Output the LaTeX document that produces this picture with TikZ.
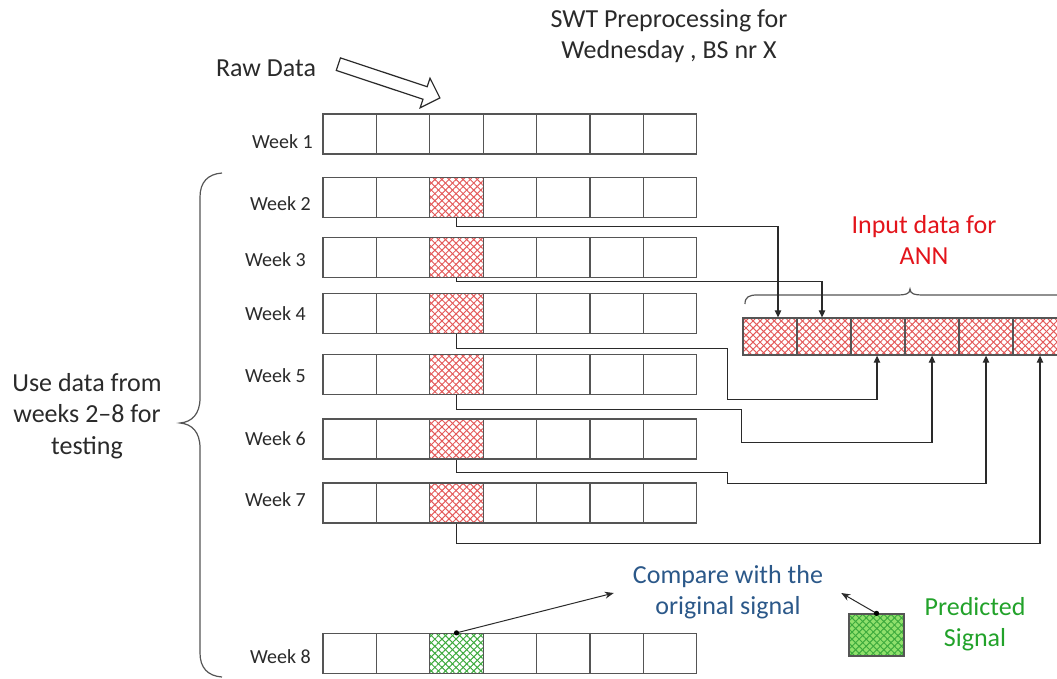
\documentclass[tikz,border=0pt]{standalone}
\usepackage{fontspec}
\setmainfont{Carlito}
\usetikzlibrary{arrows.meta,patterns.meta,shapes.arrows}
\definecolor{ink}{HTML}{2A2A2A}
\definecolor{gridline}{HTML}{555555}
\definecolor{hatchred}{HTML}{E35A5A}
\definecolor{hatchgreen}{HTML}{3DAA3D}
\definecolor{predfill}{HTML}{90E06C}
\definecolor{textred}{HTML}{E3141B}
\definecolor{textblue}{HTML}{2B5889}
\definecolor{textgreen}{HTML}{22A22A}
\tikzset{
  cell/.style={draw=gridline,line width=1.3pt,minimum width=53.4pt,minimum height=40pt,inner sep=0pt},
  anncell/.style={cell,minimum width=54pt,minimum height=37pt},
  hatched/.style={preaction={pattern={Lines[angle=45,distance=5pt,line width=1pt]},pattern color=#1},
    pattern={Lines[angle=-45,distance=5pt,line width=1pt]},pattern color=#1},
  weeklbl/.style={anchor=east,text=ink,font=\fontsize{20}{24}\selectfont,inner sep=0pt},
  bigtext/.style={align=center,text=ink,font=\fontsize{26}{31.5}\selectfont,inner sep=0pt},
  conn/.style={draw=ink,line width=1.2pt,-{Triangle[length=7pt,width=6.5pt]}},
  pointer/.style={draw=ink,line width=1pt,-{Stealth[length=9pt,width=7pt]}},
  bracket/.style={draw=gridline,line width=1.2pt}
}
\begin{document}
\begin{tikzpicture}[x=1pt,y=-1pt]
  \useasboundingbox (0,0) rectangle (1057,678);

  % titles
  \node[bigtext] (title) at (669,36) {SWT Preprocessing for\\Wednesday , BS nr X};
  \node[bigtext] (raw) at (266,68) {Raw Data};
  \node[single arrow,draw=ink,fill=white,line width=1.2pt,inner sep=6pt,
    single arrow head extend=9pt,minimum height=107pt,rotate=-18.4] (rawarrow) at (386,80) {};

  % week rows
  \foreach \c in {1,...,7}
    \node[cell] (w1c\c) at ({296.3+53.4*\c},134) {};
  \foreach \w/\yc/\hc in {2/197.5/hatchred,3/257.5/hatchred,4/313.5/hatchred,5/374.5/hatchred,
      6/439/hatchred,7/503/hatchred,8/653.5/hatchgreen}{
    \foreach \c in {1,2,4,5,6,7}
      \node[cell] (w\w c\c) at ({296.3+53.4*\c},\yc) {};
    \node[cell,hatched=\hc] (w\w c3) at (456.5,\yc) {};
  }
  \foreach \w/\lx/\ly in {1/313/142,2/311/204,3/306/260,4/306/314,5/306/376,6/306/439,7/306/500,8/311/657}
    \node[weeklbl] (lbl\w) at (\lx,\ly) {Week \w};

  % ANN input
  \foreach \k in {1,...,6}
    \node[anncell,hatched=hatchred] (ann\k) at ({716+54*\k},336.5) {};
  \node[bigtext,text=textred] (anntext) at (924,240) {Input data for\\ANN};
  \draw[bracket] (745,304) .. controls (745,297) and (749,295) .. (757,295) -- (898,295)
    .. controls (905,295) and (910,294) .. (910,289) .. controls (910,294) and (915,295) .. (922,295)
    -- (1063,295) .. controls (1071,295) and (1075,297) .. (1075,304);

  % testing weeks
  \draw[bracket] (222,173) .. controls (208,174) and (200,182) .. (200,197) -- (200,398)
    .. controls (200,414) and (192,422) .. (180,423) .. controls (192,424) and (200,432) .. (200,448)
    -- (200,653) .. controls (200,668) and (208,676) .. (222,677);
  \node[bigtext] (usetext) at (87,416) {Use data from\\weeks 2--8 for\\testing};

  % connectors into ANN
  \draw[conn] (w2c3.south) -- ++(0,8.5) -| ([xshift=8pt]ann1.north);
  \draw[conn] (w3c3.south) -- ++(0,3.5) -| ([xshift=-2pt]ann2.north);
  \draw[conn] (w4c3.south) -- ++(0,14) -| ++(271,51) -| ([xshift=-1pt]ann3.south);
  \draw[conn] (w5c3.south) -- ++(0,14) -| ++(285,33) -| (ann4.south);
  \draw[conn] (w6c3.south) -- ++(0,13) -| ++(271,11) -| (ann5.south);
  \draw[conn] (w7c3.south) -- ++(0,20) -| (ann6.south);

  % comparison
  \node[bigtext,text=textblue] (cmp) at (728,592) {Compare with the\\original signal};
  \node[cell,minimum width=55pt,minimum height=42pt,preaction={fill=predfill},hatched=hatchgreen] (pred) at (876.5,635) {};
  \node[bigtext,text=textgreen] (predtext) at (975,624) {Predicted\\Signal};
  \draw[pointer] (w8c3.north) -- ([xshift=-19pt,yshift=-1pt]cmp.west);
  \draw[pointer] (pred.north) -- ([xshift=18pt,yshift=-1pt]cmp.east);
  \fill[black] (w8c3.north) circle (2.6pt);
  \fill[black] (pred.north) circle (2.6pt);
\end{tikzpicture}
\end{document}
